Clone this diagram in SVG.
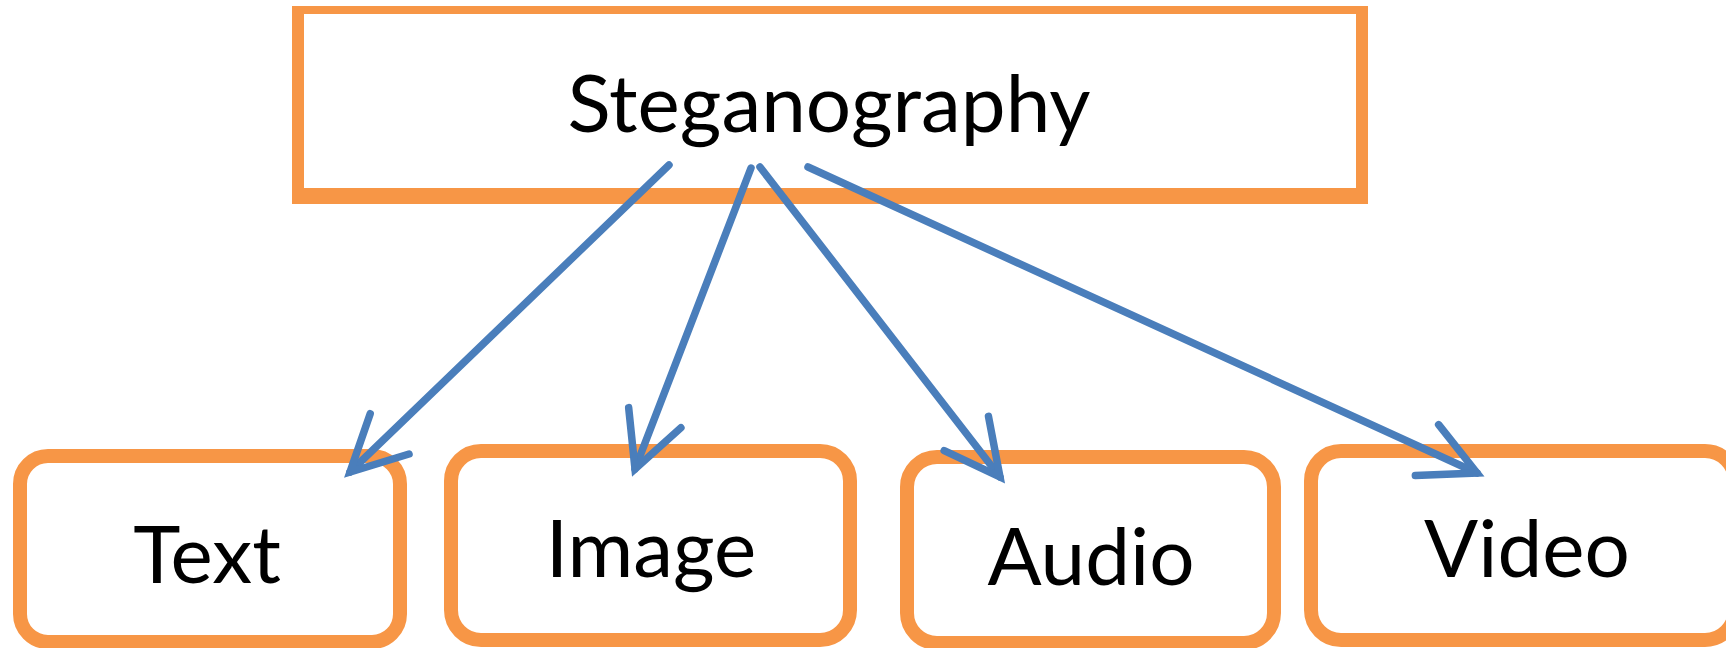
<svg xmlns="http://www.w3.org/2000/svg" width="1726" height="648" viewBox="0 0 1726 648">
  <defs>
    <style>
      .box { fill: #FFFFFF; stroke: #F79646; stroke-width: 14; }
      .label { font-family: Lato, "Liberation Sans", sans-serif; font-size: 80px; fill: #000000; text-anchor: middle; }
      .link { fill: none; stroke: #4A7EBB; stroke-width: 7.5; stroke-linecap: round; marker-end: url(#openArrow); }
    </style>
    <!-- open two-barb arrowhead drawn in user units -->
    <marker id="openArrow" markerUnits="userSpaceOnUse" markerWidth="80" markerHeight="80" refX="0" refY="0" orient="auto" viewBox="-70 -40 80 80" overflow="visible">
      <path d="M -55 -28 L 0 0 L -55 28" fill="none" stroke="#4A7EBB" stroke-width="7.5" stroke-linecap="round" stroke-linejoin="miter"/>
    </marker>
  </defs>

  <rect width="1726" height="648" fill="#FFFFFF"/>

  <!-- root node -->
  <g id="node-steganography">
    <rect x="292" y="6" width="1076" height="198" fill="#F79646"/>
    <rect x="304" y="14" width="1052" height="174" fill="#FFFFFF"/>
    <text class="label" x="829" y="132">Steganography</text>
  </g>

  <!-- leaf nodes -->
  <g id="node-text">
    <rect class="box" x="20" y="456" width="380" height="186" rx="28"/>
    <text class="label" x="207" y="583">Text</text>
  </g>
  <g id="node-image">
    <rect class="box" x="451" y="451" width="399" height="189" rx="30"/>
    <text class="label" x="651" y="577">Image</text>
  </g>
  <g id="node-audio">
    <rect class="box" x="907" y="457" width="367" height="186" rx="30"/>
    <text class="label" x="1091" y="585">Audio</text>
  </g>
  <g id="node-video">
    <rect class="box" x="1311" y="451" width="424" height="189" rx="30"/>
    <text class="label" x="1527" y="577">Video</text>
  </g>

  <!-- connectors -->
  <g id="connectors">
    <line class="link" x1="669" y1="165" x2="350" y2="472"/>
    <line class="link" x1="751" y1="168" x2="635" y2="469"/>
    <line class="link" x1="760" y1="167" x2="1000" y2="477"/>
    <line class="link" x1="808" y1="167" x2="1477" y2="473"/>
  </g>
</svg>
